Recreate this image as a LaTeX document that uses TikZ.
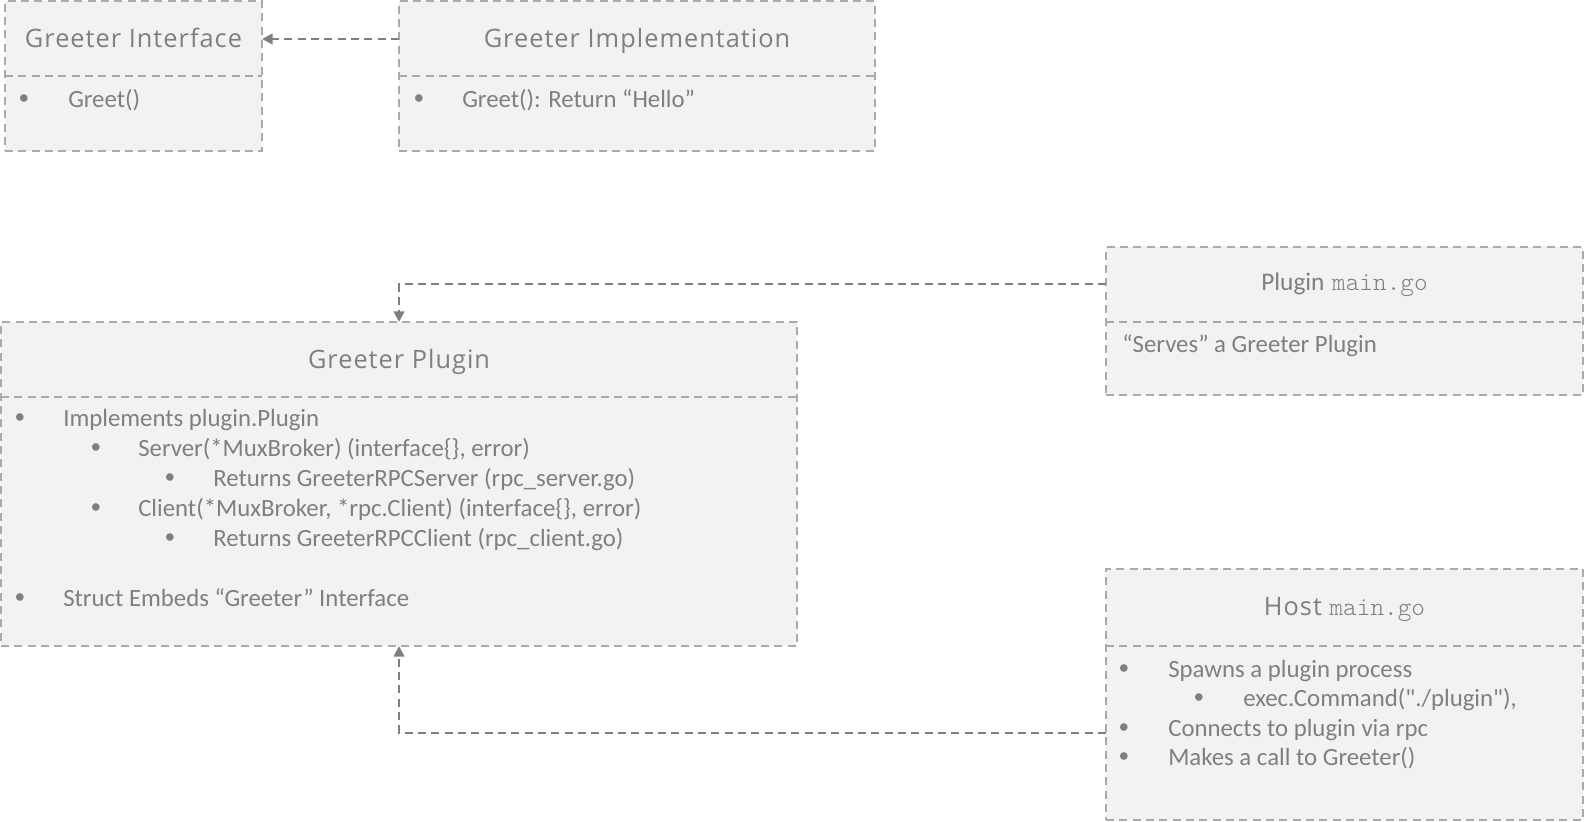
\documentclass[tikz,border=0pt]{standalone}
\usepackage{fontspec}
\setmainfont{Carlito}
\setmonofont{Latin Modern Mono Light}
\newfontfamily\titlefont[LetterSpace=4]{Open Sans}
\newfontfamily\plainfont[Ligatures=ResetAll]{Carlito}
\usetikzlibrary{arrows.meta}

\definecolor{boxfill}{HTML}{F2F2F2}
\definecolor{boxline}{HTML}{ADA9A9}
\definecolor{txtgray}{HTML}{7F7F7F}
\definecolor{linkgray}{HTML}{7F7F7F}

\tikzset{
	classbox/.style={draw=boxline, fill=boxfill, line width=1.5pt, dash pattern=on 6pt off 4pt, inner sep=0pt, outer sep=0pt, anchor=north west},
	boxdim/.style 2 args={minimum width={#1*0.75pt}, minimum height={#2*0.75pt}},
	divider/.style={draw=boxline, line width=1.2pt, dash pattern=on 6pt off 4pt},
	title/.style={text=txtgray, font=\titlefont\fontsize{19}{23}\selectfont, anchor=base, inner sep=0pt},
	item/.style={text=txtgray, font=\fontsize{18.6}{22}\selectfont, anchor=base west, inner sep=0pt},
	dot/.style={text=txtgray, font=\fontsize{16}{20}\selectfont, inner sep=0pt},
	link/.style={draw=linkgray, line width=1.5pt, dash pattern=on 6pt off 4pt, -{Triangle[length=8pt,width=8pt]}},
}

% one list entry: name, bullet x, text x, baseline y, text
\newcommand{\bitem}[5]{%
	\node[dot] (#1-dot) at (#2,#4-7.5) {\textbullet};
	\node[item] (#1) at (#3,#4) {#5};}

\begin{document}
\begin{tikzpicture}[x=0.75pt, y=-0.75pt]
	\useasboundingbox (0,0) rectangle (1584,821);
	
	% boxes
	\node[classbox, boxdim={257}{150}] (iface) at (5,1) {};
	\node[classbox, boxdim={476}{150}] (impl) at (399,1) {};
	\node[classbox, boxdim={477}{148}] (pmain) at (1106,247) {};
	\node[classbox, boxdim={796}{324}] (plugin) at (1,322) {};
	\node[classbox, boxdim={477}{251}] (host) at (1106,569) {};
	
	\draw[divider] (iface.west |- 0,76) -- (iface.east |- 0,76);
	\draw[divider] (impl.west |- 0,76) -- (impl.east |- 0,76);
	\draw[divider] (pmain.west |- 0,322) -- (pmain.east |- 0,322);
	\draw[divider] (plugin.west |- 0,397) -- (plugin.east |- 0,397);
	\draw[divider] (host.west |- 0,646) -- (host.east |- 0,646);
	
	% titles
	\node[title] (iface-title) at (iface.north |- 0,47) {Greeter Interface};
	\node[title] (impl-title) at (impl.north |- 0,47) {Greeter Implementation};
	\node[title] (pmain-title) at (pmain.north |- 0,290) {{\normalfont Plugin} {\ttfamily\fontsize{19.5}{23}\selectfont main.go}};
	\node[title] (plugin-title) at (plugin.north |- 0,368) {Greeter Plugin};
	\node[title] (host-title) at (host.north |- 0,615) {Host {\ttfamily\fontsize{19.5}{23}\selectfont main.go}};
	
	% contents
	\bitem{iface-greet}{24}{68}{107}{Greet()}
	\bitem{impl-greet}{419}{462}{107}{Greet(): Return “Hello”}
	\node[item] (pmain-serves) at (1122,352) {“Serves” a Greeter Plugin};
	
	\bitem{plugin-impl}{20}{63}{426}{Implements plugin.Plugin}
	\bitem{plugin-server}{96}{138}{456}{Server(*MuxBroker) (interface\{\}, error)}
	\bitem{plugin-rpcs}{170}{213}{486}{Returns GreeterRPCServer (rpc\_server.go)}
	\bitem{plugin-client}{96}{138}{516}{Client(*MuxBroker, *rpc.Client) (interface\{\}, error)}
	\bitem{plugin-rpcc}{170}{213}{546}{Returns GreeterRPCClient (rpc\_client.go)}
	\bitem{plugin-struct}{20}{63}{606}{Struct Embeds “Greeter” Interface}
	
	\bitem{host-spawn}{1124}{1168}{677}{Spawns a plugin process}
	\bitem{host-exec}{1199}{1243}{706}{{\plainfont exec.Command("./plugin"),}}
	\bitem{host-conn}{1124}{1168}{736}{Connects to plugin via rpc}
	\bitem{host-call}{1124}{1168}{765}{Makes a call to Greeter()}
	
	% connectors
	\draw[link] (impl.west |- 0,39) -- (iface.east |- 0,39);
	\draw[link] (pmain.west |- 0,284) -| (plugin.north);
	\draw[link] (host.west |- 0,733) -| (plugin.south);
\end{tikzpicture}
\end{document}
